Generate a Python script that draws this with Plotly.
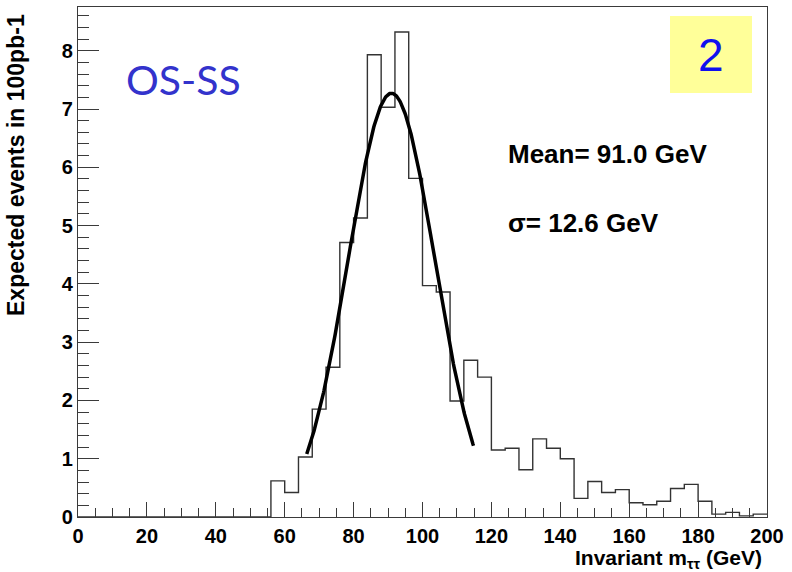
import numpy as np
import plotly.graph_objects as go

# ---------------- data ----------------
bin_width = 4.0
bin_low_edges = [i * 4.0 for i in range(50)]  # 0,4,...,196 GeV
counts = [
    0, 0, 0, 0, 0, 0, 0, 0, 0, 0,           # 0-40
    0, 0, 0, 0, 0.62, 0.42, 1.03, 1.85, 2.57, 4.71,   # 40-80
    5.13, 7.93, 7.03, 8.32, 5.81, 3.97, 3.86, 1.99, 2.69, 2.40,  # 80-120
    1.15, 1.18, 0.81, 1.34, 1.18, 1.00, 0.32, 0.61, 0.42, 0.47,  # 120-160
    0.245, 0.21, 0.27, 0.49, 0.56, 0.27, 0.05, 0.08, 0.02, 0.05,  # 160-200
]

fit_mean = 91.0
fit_sigma = 12.6
fit_amplitude = 7.27
fit_xmin, fit_xmax = 66.4, 114.8

x_tick_vals = list(range(0, 201, 20))
y_tick_vals = list(range(0, 9))
x_tick_text = ["<b>%d</b>" % v for v in x_tick_vals]
y_tick_text = ["<b>%d</b>" % v for v in y_tick_vals]

# ---------------- figure ----------------
W, H = 792, 572
ML, MR, MT, MB = 78, 25, 7, 55
PW, PH = W - ML - MR, H - MT - MB


def px(xp):
    return (xp - ML) / PW


def py(yp):
    return (H - MB - yp) / PH


# step outline of histogram (ROOT style)
step_x = bin_low_edges + [bin_low_edges[-1] + bin_width]
step_y = counts + [counts[-1]]

fit_x = np.linspace(fit_xmin, fit_xmax, 300)
fit_y = fit_amplitude * np.exp(-0.5 * ((fit_x - fit_mean) / fit_sigma) ** 2)

fig = go.Figure()
fig.add_trace(go.Scatter(
    x=step_x, y=step_y, mode="lines", line_shape="hv",
    line=dict(color="#333333", width=1.4), hoverinfo="skip", showlegend=False,
))
fig.add_trace(go.Scatter(
    x=fit_x, y=fit_y, mode="lines",
    line=dict(color="black", width=3.5), hoverinfo="skip", showlegend=False,
))

axis_col = "#3a3a3a"
tickfont = dict(family="Liberation Sans", size=20, color="black")

fig.update_xaxes(
    range=[0, 200], tickvals=x_tick_vals, ticktext=x_tick_text,
    ticks="inside", ticklen=15,
    tickwidth=1.3, tickcolor=axis_col, showline=True, linecolor=axis_col,
    linewidth=1.3, mirror=True, showgrid=False, zeroline=False,
    tickfont=tickfont, ticklabelstandoff=1,
    minor=dict(dtick=5, ticks="inside", ticklen=8.5, tickwidth=1.3,
               tickcolor=axis_col, showgrid=False),
)
fig.update_yaxes(
    range=[0, 8.75], tickvals=y_tick_vals, ticktext=y_tick_text,
    ticks="inside", ticklen=21,
    tickwidth=1.3, tickcolor=axis_col, showline=True, linecolor=axis_col,
    linewidth=1.3, mirror=True, showgrid=False, zeroline=False,
    tickfont=tickfont, ticklabelstandoff=0,
    minor=dict(dtick=0.2, ticks="inside", ticklen=11, tickwidth=1.3,
               tickcolor=axis_col, showgrid=False),
)

annotations = [
    dict(x=px(124), y=py(79), text="OS-SS", xanchor="left", yanchor="middle",
         font=dict(family="Lato", size=41, color="#3333cc")),
    dict(x=px(506), y=py(154), text="<b>Mean= 91.0 GeV</b>", xanchor="left", yanchor="middle",
         font=dict(family="Liberation Sans", size=26, color="black")),
    dict(x=px(506), y=py(223), text="<b>σ= 12.6 GeV</b>", xanchor="left", yanchor="middle",
         font=dict(family="Liberation Sans", size=26, color="black")),
    dict(x=px(711), y=py(55), text="2", xanchor="center", yanchor="middle",
         font=dict(family="Liberation Sans", size=46, color="#1010ee")),
    dict(x=px(764), y=py(559), text="<b>Invariant m<sub>ττ</sub> (GeV)</b>",
         xanchor="right", yanchor="middle",
         font=dict(family="Liberation Sans", size=21, color="black")),
    dict(x=px(16), y=py(165), text="<b>Expected events in 100pb-1</b>", textangle=-90,
         xanchor="center", yanchor="middle",
         font=dict(family="Liberation Sans", size=23, color="black")),
]
for a in annotations:
    a.update(xref="paper", yref="paper", showarrow=False)

fig.update_layout(
    width=W, height=H,
    margin=dict(l=ML, r=MR, t=MT, b=MB),
    paper_bgcolor="white", plot_bgcolor="white",
    annotations=annotations,
    shapes=[dict(type="rect", xref="paper", yref="paper",
                 x0=px(670), x1=px(752), y0=py(16), y1=py(93),
                 fillcolor="#ffff99", line=dict(width=0), layer="below")],
    showlegend=False,
)

fig.write_html("out.html")
